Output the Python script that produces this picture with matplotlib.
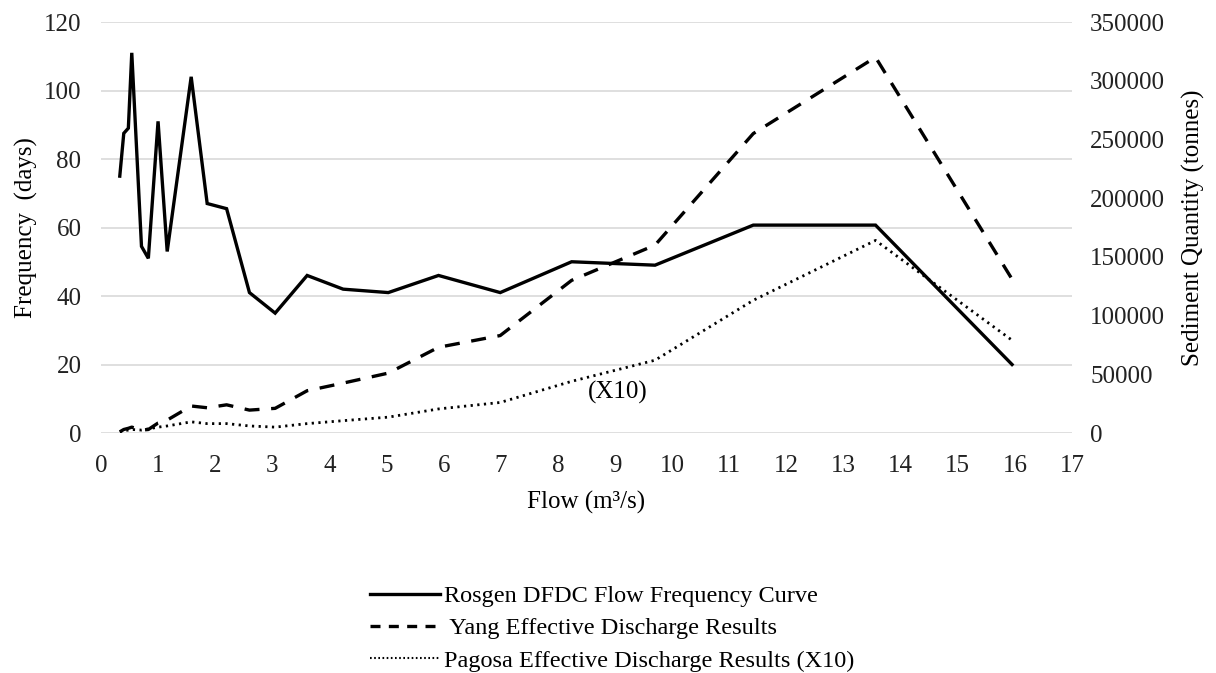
import matplotlib.pyplot as plt
from matplotlib.lines import Line2D

# Flow bins (m3/s)
flow = [0.33, 0.40, 0.48, 0.54, 0.71, 0.83, 1.0, 1.16, 1.58, 1.86, 2.2, 2.6,
        3.05, 3.61, 4.24, 5.03, 5.91, 6.99, 8.24, 9.70, 11.42, 13.56, 15.95]

# Rosgen DFDC flow frequency (days)
rosgen_freq = [75, 87.5, 89, 111, 54.5, 51, 91, 53, 104, 67, 65.5, 41,
               35, 46, 42, 41, 46, 41, 50, 49, 60.7, 60.7, 20]

# Yang effective discharge (tonnes)
yang_sed = [1000, 3000, 4000, 5000, 2500, 3000, 8500, 11000, 23000, 21500, 24000, 19500,
            21000, 36000, 42500, 51000, 73000, 83000, 130000, 160000, 255000, 320000, 131000]

# Pagosa effective discharge x10 (tonnes)
pagosa_sed = [1000, 2000, 2500, 3000, 2500, 3500, 5000, 6000, 9500, 8000, 8000, 6000,
              5000, 8000, 10500, 13500, 20500, 26000, 44000, 62000, 113000, 164000, 79000]

plt.rcParams['font.family'] = ['Liberation Serif', 'DejaVu Serif']

fig = plt.figure(figsize=(12.16, 6.73), dpi=100)
ax1 = fig.add_axes([0.083, 0.3566, 0.7986, 0.6107])
ax2 = ax1.twinx()

ax1.plot(flow, rosgen_freq, color='black', linewidth=2.4, solid_joinstyle='miter')
ax2.plot(flow, yang_sed, color='black', linewidth=2.4, dashes=(4.5, 3.5))
ax2.plot(flow, pagosa_sed, color='black', linewidth=2.0, dashes=(0.8, 1.6))

ax1.set_xlim(0, 17)
ax1.set_ylim(0, 120)
ax2.set_ylim(0, 350000)
ax1.set_xticks(range(0, 18))
ax1.set_yticks(range(0, 121, 20))
ax2.set_yticks(range(0, 350001, 50000))

ax1.yaxis.grid(True, color='#d9d9d9', linewidth=1.2)
ax1.set_axisbelow(True)
for ax in (ax1, ax2):
    for s in ax.spines.values():
        s.set_visible(False)
    ax.tick_params(length=0, labelsize=18, colors='#222222')
ax1.tick_params(axis='y', pad=14)
ax2.tick_params(axis='y', pad=13)
ax1.tick_params(axis='x', pad=16)

ax1.set_xlabel('Flow (m\u00b3/s)', fontsize=18, labelpad=10)
ax1.set_ylabel('Frequency  (days)', fontsize=18, labelpad=4)
ax2.set_ylabel('Sediment Quantity (tonnes)', fontsize=18, labelpad=12)

ax1.text(9.04, 11.7, '(X10)', fontsize=18, ha='center', va='center')

handles = [
    Line2D([], [], color='black', linewidth=2.4),
    Line2D([], [], color='black', linewidth=2.4, dashes=(3, 2.5)),
    Line2D([], [], color='black', linewidth=1.5, dashes=(0.8, 1.2)),
]
labels = ['Rosgen DFDC Flow Frequency Curve',
          ' Yang Effective Discharge Results',
          'Pagosa Effective Discharge Results (X10)']
fig.legend(handles, labels, loc='upper left', bbox_to_anchor=(0.296, 0.145),
           frameon=False, fontsize=17.5, handlelength=2.9, handletextpad=0.15,
           labelspacing=0.42, borderaxespad=0)

fig.savefig('out.png', dpi=100)
